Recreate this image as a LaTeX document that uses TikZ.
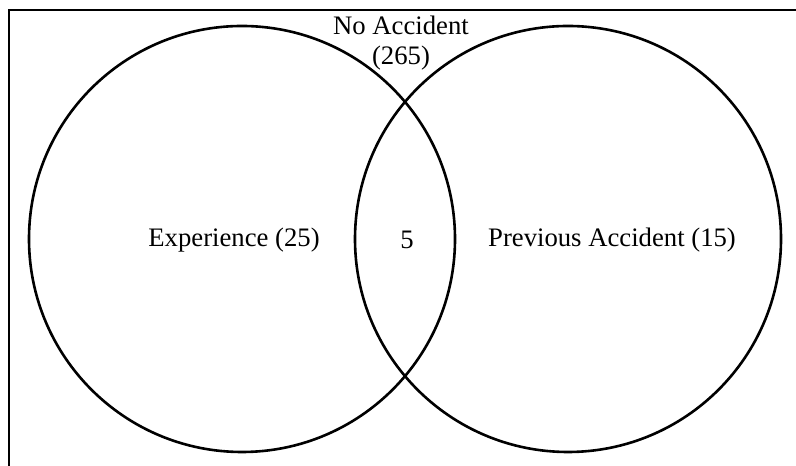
\documentclass[tikz,border=0pt]{standalone}
\usepackage{fontspec}
\setmainfont{Liberation Serif}
\usetikzlibrary{positioning}

\begin{document}
\begin{tikzpicture}[x=0.5bp, y=-0.5bp,
  set/.style={draw, circle, line width=1.3bp, inner sep=0pt, minimum size=213bp},
  lbl/.style={font=\fontsize{13.4}{15}\selectfont, align=center, inner sep=0pt},
]
\useasboundingbox (0,0) rectangle (796,466);

% Frame (top and left edge only)
\draw[line width=1.3bp] (796,10) -- (9,10) -- (9,466);

% Sets
\node[set] (exp) at (242,239) {};
\node[set] (prev) at (568,239) {};

% Labels
\node[lbl] (explbl) at (234,240) {Experience (25)};
\node[lbl] (prevlbl) at (612,240) {Previous Accident (15)};
\node[lbl] (both) at (407,240) {5};
\node[lbl] (none) at (401,43) {No Accident\\(265)};

\end{tikzpicture}
\end{document}
